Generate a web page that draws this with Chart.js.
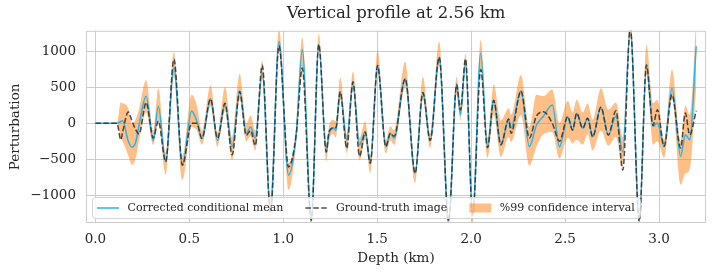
<!DOCTYPE html>
<html>
<head>
<meta charset="utf-8">
<script src="https://cdn.jsdelivr.net/npm/chart.js@4"></script>
<style>
  body { margin: 0; background: #fff; }
</style>
</head>
<body>
<canvas id="myChart" width="716" height="276"></canvas>
<script>
// depth samples (km) and the values
const depth = [0.000, 0.115, 0.135, 0.145, 0.175, 0.195, 0.215, 0.232, 0.270, 0.308,
  0.335, 0.374, 0.418, 0.463, 0.512, 0.540, 0.567, 0.613, 0.650, 0.690,
  0.728, 0.768, 0.803, 0.826, 0.851, 0.888, 0.932, 0.977, 1.028, 1.069,
  1.101, 1.149, 1.189, 1.229, 1.243, 1.264, 1.280, 1.303, 1.338, 1.371,
  1.406, 1.436, 1.463, 1.502, 1.546, 1.570, 1.590, 1.649, 1.702, 1.743,
  1.782, 1.830, 1.880, 1.923, 1.943, 1.970, 2.008, 2.051, 2.087, 2.120,
  2.158, 2.200, 2.212, 2.265, 2.310, 2.347, 2.385, 2.432, 2.470, 2.514,
  2.540, 2.562, 2.594, 2.620, 2.647, 2.691, 2.730, 2.771, 2.807, 2.847,
  2.895, 2.933, 2.968, 2.991, 3.027, 3.069, 3.115, 3.140, 3.163, 3.198];

const meanValues = [0, 0, 25, 35, -250, -330, -260, -30, 377, -243,
  237, -531, 772, -578, 172, 30, -215, 340, -240, 270,
  -325, 445, -136, -50, -205, 703, -1200, 1140, -720, -150,
  1030, -1350, 1100, -396, -160, -60, -100, 441, -233, 559,
  -300, -120, -557, 805, -325, -140, -210, 620, -697, 430,
  -240, 922, -1360, 540, 120, 840, -1290, 982, -321, 320,
  -300, 50, -66, 450, -325, -30, 100, 256, -327, 92,
  -94, 140, -70, 70, -187, 224, -163, 100, -396, 1330,
  -1360, 814, -42, 4, -321, 493, -461, -159, -229, 1075];

const truthValues = [0, 0, -229, -120, 158, 30, -90, -150, 290, -205,
  30, -536, 894, -583, 0, 0, -210, 340, -210, 280,
  -440, 445, -170, -100, -310, 810, -1250, 1080, -610, -150,
  770, -1350, 1100, -400, -120, -70, -60, 441, -349, 580,
  -460, -120, -557, 805, -325, -140, -180, 620, -697, 430,
  -240, 922, -1360, 540, 186, 900, -1290, 750, -340, 320,
  -300, 60, -140, 450, -205, 100, 160, 0, -250, 92,
  -94, 140, -70, 70, -187, 224, -163, 176, -652, 1330,
  -1360, 814, -30, 190, -321, 400, -345, 144, -159, 176];

const lowerValues = [0, 0, -210, -250, -450, -580, -480, -250, 150, -300,
  0, -720, 650, -790, -50, -100, -300, 230, -330, 170,
  -520, 330, -250, -180, -380, 620, -1320, 1000, -930, -280,
  700, -1450, 1000, -535, -250, -150, -200, 330, -420, 450,
  -520, -230, -700, 700, -420, -240, -300, 500, -830, 330,
  -350, 800, -1450, 400, 50, 720, -1400, 720, -480, 120,
  -470, -190, -260, 120, -590, -330, -150, -120, -490, -200,
  -280, -230, -300, -150, -380, -100, -310, -190, -600, 1200,
  -1450, 680, -300, -250, -480, 340, -857, -700, -650, 500];

const upperValues = [0, 0, 290, 280, 210, -20, 60, 200, 600, -100,
  490, -400, 990, -450, 400, 250, -100, 530, -130, 510,
  -200, 690, 0, 110, -100, 870, -1050, 1320, -550, -50,
  1200, -1250, 1250, -280, -50, 50, 30, 640, -150, 720,
  -200, 30, -450, 1020, -230, -40, -100, 860, -620, 650,
  -150, 1140, -1280, 650, 260, 970, -1200, 1160, -200, 540,
  40, 210, 120, 675, -50, 400, 380, 470, 0, 310,
  150, 330, 150, 280, 50, 490, 190, 290, -200, 1450,
  -1280, 1100, 280, 330, -230, 750, -250, 250, 120, 1450];

const xTicks = [0, 0.5, 1.0, 1.5, 2.0, 2.5, 3.0];
const yTicks = [-1000, -500, 0, 500, 1000];

const FONT = '"DejaVu Serif", "Liberation Serif", serif';
const TEXT = '#262626';
const GRID = '#cccccc';
const BLUE = '#2ab4ea';
const DARK = 'rgba(45,45,45,0.85)';
const ORANGE = 'rgba(255,127,14,0.5)';

function pts(values) {
    return depth.map((d, i) => ({ x: d, y: values[i] }));
}

// frame round the plot and the legend inside it
const framePlugin = {
    id: 'frame',
    afterDraw(chart) {
        const ctx = chart.ctx;
        const a = chart.chartArea;
        ctx.save();
        ctx.strokeStyle = GRID;
        ctx.lineWidth = 1;
        ctx.strokeRect(a.left + 0.5, a.top + 0.5, a.right - a.left - 1, a.bottom - a.top - 1);

        ctx.font = '11px ' + FONT;
        const items = [
            { text: chart.data.datasets[2].label, kind: 'line' },
            { text: chart.data.datasets[3].label, kind: 'dash' },
            { text: chart.data.datasets[1].label, kind: 'patch' }
        ];
        const handle = 22, gap = 8.5, sep = 22, padL = 5, padR = 5;
        let w = padL + padR;
        items.forEach((it, i) => {
            it.w = ctx.measureText(it.text).width;
            w += handle + gap + it.w + (i > 0 ? sep : 0);
        });
        const bx = a.left + 6, bh = 21, by = a.bottom - 5 - bh;
        ctx.beginPath();
        ctx.roundRect(bx + 0.5, by + 0.5, w, bh, 3);
        ctx.fillStyle = 'rgba(255,255,255,0.8)';
        ctx.fill();
        ctx.strokeStyle = '#d4d4d4';
        ctx.stroke();

        const cy = by + bh / 2 + 0.5;
        let x = bx + padL;
        items.forEach((it, i) => {
            if (i > 0) x += sep;
            ctx.save();
            if (it.kind === 'patch') {
                ctx.fillStyle = ORANGE;
                ctx.fillRect(x, cy - 4.5, handle, 9);
            } else {
                ctx.beginPath();
                ctx.moveTo(x, cy);
                ctx.lineTo(x + handle, cy);
                ctx.lineWidth = 1.5;
                ctx.strokeStyle = it.kind === 'line' ? BLUE : DARK;
                if (it.kind === 'dash') ctx.setLineDash([5.5, 2.4]);
                ctx.stroke();
            }
            ctx.restore();
            x += handle + gap;
            ctx.fillStyle = TEXT;
            ctx.textBaseline = 'middle';
            ctx.fillText(it.text, x, cy);
            x += it.w;
        });
        ctx.restore();
    }
};

const ctx = document.getElementById('myChart').getContext('2d');
const chart = new Chart(ctx, {
    type: 'line',
    data: {
        datasets: [{
            label: 'lower',
            data: pts(lowerValues),
            borderWidth: 0,
            pointRadius: 0,
            fill: false,
            order: 4,
            clip: 0
        }, {
            label: '%99 confidence interval',
            data: pts(upperValues),
            borderWidth: 0,
            pointRadius: 0,
            backgroundColor: ORANGE,
            fill: '-1',
            order: 3,
            clip: 0
        }, {
            label: 'Corrected conditional mean',
            data: pts(meanValues),
            borderColor: BLUE,
            borderWidth: 1.5,
            pointRadius: 0,
            fill: false,
            order: 2,
            clip: 0
        }, {
            label: 'Ground-truth image',
            data: pts(truthValues),
            borderColor: DARK,
            borderWidth: 1.5,
            borderDash: [5.5, 2.4],
            pointRadius: 0,
            fill: false,
            order: 1,
            clip: 0
        }]
    },
    options: {
        responsive: false,
        animation: false,
        devicePixelRatio: 1,
        cubicInterpolationMode: 'monotone',
        layout: { padding: { left: 0, right: 10, top: 0, bottom: 0 } },
        plugins: {
            legend: { display: false },
            tooltip: { enabled: false },
            title: {
                display: true,
                text: 'Vertical profile at 2.56 km',
                fullSize: false,
                color: TEXT,
                font: { family: FONT, size: 16.5, weight: 'normal' },
                padding: { top: 4, bottom: 7 }
            }
        },
        scales: {
            x: {
                type: 'linear',
                min: -0.05,
                max: 3.25,
                afterBuildTicks: (s) => { s.ticks = xTicks.map(v => ({ value: v })); },
                afterFit: (s) => { s.height = 53; },
                ticks: {
                    color: TEXT,
                    font: { family: FONT, size: 13.5 },
                    padding: 8,
                    maxRotation: 0,
                    callback: (v) => v.toFixed(1)
                },
                grid: { color: GRID, drawTicks: false },
                border: { display: false },
                title: {
                    display: true,
                    text: 'Depth (km)',
                    color: TEXT,
                    font: { family: FONT, size: 13.5 },
                    padding: { top: 2, bottom: 9 }
                }
            },
            y: {
                min: -1390,
                max: 1290,
                afterBuildTicks: (s) => { s.ticks = yTicks.map(v => ({ value: v })); },
                afterFit: (s) => { s.width = 86; },
                ticks: {
                    color: TEXT,
                    font: { family: FONT, size: 13.5 },
                    padding: 10,
                    callback: (v) => (v < 0 ? '\u2212' + Math.abs(v) : String(v))
                },
                grid: { color: GRID, drawTicks: false },
                border: { display: false },
                title: {
                    display: true,
                    text: 'Perturbation',
                    color: TEXT,
                    font: { family: FONT, size: 13.5 },
                    padding: { top: 7, bottom: 2 }
                }
            }
        }
    },
    plugins: [framePlugin]
});
</script>
</body>
</html>
